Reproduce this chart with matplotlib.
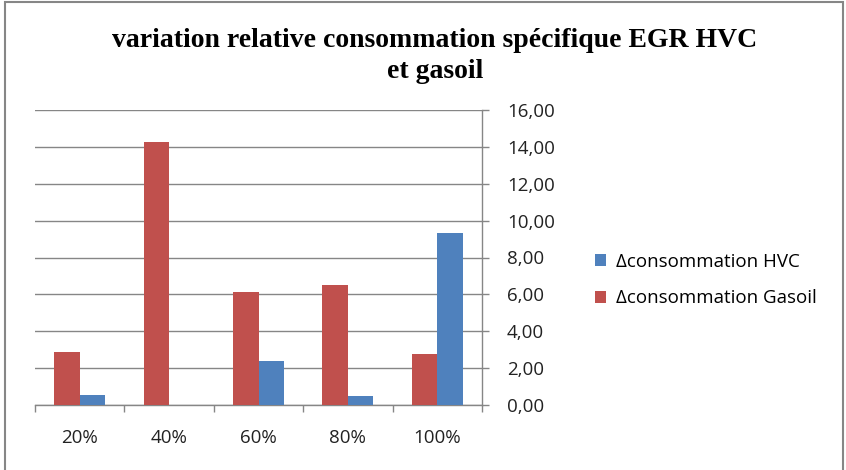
import numpy as np
import matplotlib.pyplot as plt
from matplotlib.patches import Rectangle

# Load levels and relative variations (%)
charges = ['20%', '40%', '60%', '80%', '100%']
delta_gasoil = [2.89, 14.26, 6.11, 6.52, 2.78]
delta_hvc = [0.52, 0.0, 2.39, 0.49, 9.35]
y_ticks = [0, 2, 4, 6, 8, 10, 12, 14, 16]

red = '#C0504D'
blue = '#4F81BD'
grid_col = '#868686'
label_font = ['Open Sans', 'DejaVu Sans']

fig = plt.figure(figsize=(8.46, 4.7), dpi=100)
ax = fig.add_axes([35 / 846, 1 - 405 / 470, 447 / 846, 295 / 470])

x = np.arange(len(charges))
w = 0.285
ax.bar(x - w / 2, delta_gasoil, w, color=red, label='\u0394consommation Gasoil', zorder=3)
ax.bar(x + w / 2, delta_hvc, w, color=blue, label='\u0394consommation HVC', zorder=3)

ax.set_xlim(-0.5, len(charges) - 0.5)
ax.set_ylim(0, 16)

# value axis on the right, french decimal comma
ax.yaxis.tick_right()
ax.set_yticks(y_ticks)
ax.set_yticklabels(['{:.2f}'.format(v).replace('.', ',') for v in y_ticks],
                   family=label_font, fontsize=13.5, color='#222222', ha='left')
ax.tick_params(axis='y', direction='out', length=5, width=1, color=grid_col, pad=13)
ax.yaxis.grid(True, color=grid_col, linewidth=1, zorder=0)

# category ticks sit between the groups
ax.set_xticks(np.arange(len(charges) + 1) - 0.5)
ax.set_xticklabels([])
ax.set_xticks(x, minor=True)
ax.set_xticklabels(charges, minor=True, family=label_font, fontsize=13.5, color='#222222')
ax.tick_params(axis='x', which='major', direction='out', length=5, width=1, color=grid_col)
ax.tick_params(axis='x', which='minor', length=0, pad=17)

for side in ['left', 'top']:
    ax.spines[side].set_visible(False)
for side in ['right', 'bottom']:
    ax.spines[side].set_color(grid_col)
    ax.spines[side].set_linewidth(1)

fig.text(435 / 846, 1 - 56 / 470, 'variation relative consommation spécifique EGR HVC\net gasoil',
         ha='center', va='center', family=['Liberation Serif', 'DejaVu Serif'],
         fontweight='bold', fontsize=20, linespacing=1.28)

# legend: HVC above Gasoil
handles, labels = ax.get_legend_handles_labels()
fig.legend(handles[::-1], labels[::-1], loc='center left',
           bbox_to_anchor=(578 / 846, 1 - 280 / 470), frameon=False,
           prop={'family': label_font, 'size': 13.5}, handlelength=0.6, handleheight=0.6,
           handletextpad=0.5, labelspacing=1.0)

# chart area border
fig.patches.append(Rectangle((5 / 846, -0.01), 838 / 846, 1.005, transform=fig.transFigure,
                             fill=False, edgecolor=grid_col, linewidth=1.5))

fig.savefig('out.png', dpi=100)
